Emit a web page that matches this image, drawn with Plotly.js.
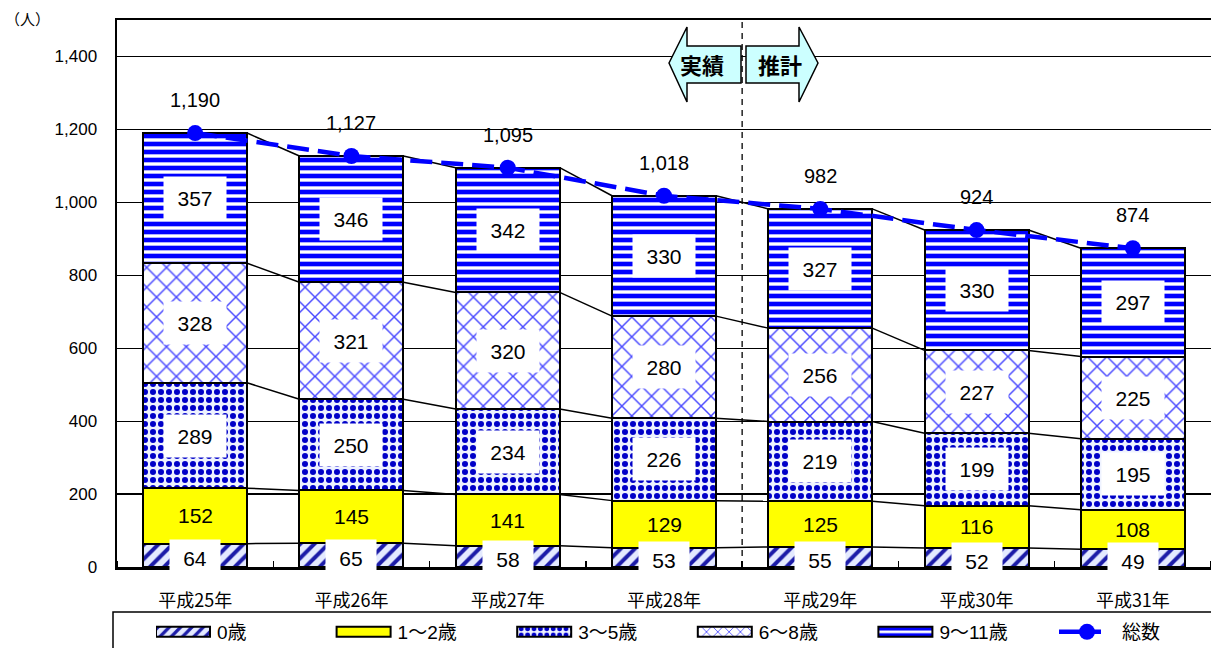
<!DOCTYPE html>
<html>
<head>
<meta charset="utf-8">
<script src="https://cdn.plot.ly/plotly-3.0.1.min.js"></script>
<style>html,body{margin:0;padding:0;background:#fff;overflow:hidden;width:1211px;height:648px;}#chart{width:1300px;height:648px;}</style>
</head>
<body>
<div id="chart"></div>
<script>
// ---- data ----
const years = ["平成25年","平成26年","平成27年","平成28年","平成29年","平成30年","平成31年"];
const age0 = [64, 65, 58, 53, 55, 52, 49];
const age1_2 = [152, 145, 141, 129, 125, 116, 108];
const age3_5 = [289, 250, 234, 226, 219, 199, 195];
const age6_8 = [328, 321, 320, 280, 256, 227, 225];
const age9_11 = [357, 346, 342, 330, 327, 330, 297];
const totals = [1190, 1127, 1095, 1018, 982, 924, 874];
const seriesNames = ["0歳", "1～2歳", "3～5歳", "6～8歳", "9～11歳"];
const totalName = "総数";
const actualLabel = "実績";
const forecastLabel = "推計";
const unitLabel = "（人）";

// ---- build ----
const FONT = "Liberation Sans, Arial, Noto Sans CJK JP, sans-serif";
const JP = "Noto Sans CJK JP, sans-serif";
const xs = years.map((_, i) => i);
const BW = 0.665;
const series = [age0, age1_2, age3_5, age6_8, age9_11];
const patterns = [
  {shape: "/", fgcolor: "#1c1ca8", bgcolor: "#e4eaff", size: 10, solidity: 0.4},
  null,
  {shape: ".", fgcolor: "#0000c8", bgcolor: "#eef2ff", size: 8, solidity: 0.45},
  {shape: "x", fgcolor: "#4a4aff", bgcolor: "#ffffff", size: 14, solidity: 0.2},
  {shape: "-", fgcolor: "#0000ff", bgcolor: "#ffffff", size: 8, solidity: 0.58}
];
const traces = [];
series.forEach((vals, k) => {
  const m = {line: {color: "#000", width: 2}};
  if (patterns[k]) { m.color = patterns[k].bgcolor; m.pattern = patterns[k]; }
  else m.color = "#ffff00";
  traces.push({type: "bar", x: xs, y: vals, name: seriesNames[k], width: BW,
    marker: m, hoverinfo: "skip"});
});
const cum = [];
series.forEach((vals, k) => cum.push(vals.map((v, i) => v + (k ? cum[k-1][i] : 0))));
cum.forEach(level => {
  const lx = [], ly = [];
  for (let i = 0; i < xs.length - 1; i++) {
    lx.push(xs[i] + BW/2, xs[i+1] - BW/2, null);
    ly.push(level[i], level[i+1], null);
  }
  traces.push({type: "scatter", mode: "lines", x: lx, y: ly, showlegend: false,
    hoverinfo: "skip", line: {color: "#000", width: 1.5}});
});
traces.push({type: "scatter", mode: "lines+markers", x: xs, y: totals, name: totalName,
  line: {color: "#0000ff", width: 4.5, dash: "22px,9px"},
  marker: {color: "#0000ff", size: 16}, hoverinfo: "skip"});

const ann = [];
series.forEach((vals, k) => {
  vals.forEach((v, i) => {
    const base = k ? cum[k-1][i] : 0;
    const a = {x: xs[i], y: base + v/2, text: String(v), showarrow: false,
      font: {family: FONT, size: 21, color: "#000"}, xref: "x", yref: "y"};
    if (k !== 1) {
      a.bgcolor = "#ffffff";
      const three = String(v).length >= 3;
      a.width = three ? 60 : 48;
      a.height = three ? 40 : 34;
    }
    if (k === 0) a.yshift = -3;
    ann.push(a);
  });
});
totals.forEach((t, i) => ann.push({x: xs[i], y: t, yshift: 33, showarrow: false,
  text: t.toLocaleString("en-US"), font: {family: FONT, size: 20, color: "#000"}}));

const PL = 117, PT = 20, PW = 1094, PH = 547, FW = 1300, FH = 648;
const px = p => (p - PL) / PW;
const py = p => (PT + PH - p) / PH;
const poly = pts => "M" + pts.map(p => px(p[0]) + "," + py(p[1])).join("L") + "Z";
const leftArrow = poly([[669,63],[687,27],[687,46],[741,46],[741,83],[687,83],[687,102]]);
const rightArrow = poly([[818,63],[799,27],[799,46],[746,46],[746,83],[799,83],[799,102]]);
ann.push({xref: "paper", yref: "paper", x: px(702), y: py(64), xanchor: "center", yanchor: "middle",
  text: "<b>" + actualLabel + "</b>",
  showarrow: false, font: {family: JP, size: 22, color: "#000"}});
ann.push({xref: "paper", yref: "paper", x: px(780), y: py(64), xanchor: "center", yanchor: "middle",
  text: "<b>" + forecastLabel + "</b>",
  showarrow: false, font: {family: JP, size: 22, color: "#000"}});
ann.push({xref: "paper", yref: "paper", x: px(3), y: py(18), xanchor: "left", yanchor: "middle",
  text: unitLabel, showarrow: false, font: {family: JP, size: 15, color: "#000"}});

const shapes = [
  {type: "line", xref: "x", yref: "paper", x0: 3.5, x1: 3.5, y0: 0, y1: 1,
    line: {color: "#000", width: 1.3, dash: "6px,5px"}, layer: "above"},
  {type: "path", xref: "paper", yref: "paper", path: leftArrow, fillcolor: "#ccffff",
    line: {color: "#000", width: 1.5}, layer: "above"},
  {type: "path", xref: "paper", yref: "paper", path: rightArrow, fillcolor: "#ccffff",
    line: {color: "#000", width: 1.5}, layer: "above"},
  {type: "rect", xref: "paper", yref: "paper", x0: px(113), x1: px(1260), y0: py(612), y1: py(670),
    line: {color: "#000", width: 1.5}, fillcolor: "rgba(0,0,0,0)", layer: "below"}
];

const layout = {
  width: FW, height: FH,
  margin: {l: PL, r: FW - PL - PW, t: PT, b: FH - PT - PH, pad: 0, autoexpand: false},
  paper_bgcolor: "#fff", plot_bgcolor: "#fff",
  barmode: "stack",
  font: {family: FONT, color: "#000"},
  xaxis: {range: [-0.5, 6.5], tickvals: xs, ticktext: years, showgrid: false, zeroline: false,
    showline: true, linecolor: "#000", linewidth: 2.5, mirror: true, ticks: "",
    ticklabelstandoff: 16, tickfont: {family: JP, size: 18}, automargin: false,
    minor: {tick0: 0.5, dtick: 1, ticks: "inside", ticklen: 6, tickcolor: "#000", tickwidth: 1.5, showgrid: false}},
  yaxis: {range: [0, 1500], tickvals: [0,200,400,600,800,1000,1200,1400], tickformat: ",",
    showgrid: true, gridcolor: "#000", gridwidth: 1.2, zeroline: false, automargin: false,
    showline: true, linecolor: "#000", linewidth: 2.5, ticks: "", ticklabelstandoff: 14,
    tickfont: {family: FONT, size: 17}},
  legend: {orientation: "h", xref: "container", yref: "container", x: 156 / FW, xanchor: "left",
    y: 1 - 632 / FH, yanchor: "middle",
    borderwidth: 0, bgcolor: "rgba(0,0,0,0)",
    font: {family: FONT, size: 19}, entrywidth: 135.6, traceorder: "normal"},
  annotations: ann, shapes: shapes,
  showlegend: true
};
Plotly.newPlot("chart", traces, layout, {staticPlot: true, displayModeBar: false}).then(gd => {
  // widen legend swatches to match the reference
  gd.querySelectorAll(".legend .traces").forEach(tr => {
    const txt = tr.querySelector("text.legendtext");
    const bars = tr.querySelectorAll(".legendpoints path.legendbar, .legendpoints path.legendundefined");
    const line = tr.querySelector(".legendlines path.js-line");
    if (line) {
      line.setAttribute("d", "M0,0h42");
      tr.querySelectorAll(".legendpoints path.scatterpts").forEach(p => p.setAttribute("transform", "translate(28,0)"));
      if (txt) txt.setAttribute("x", 63);
    } else if (bars.length) {
      bars.forEach(b => b.setAttribute("d", "M-20,-5H34V5H-20Z"));
      if (txt) txt.setAttribute("x", 61);
    }
  });
});
</script>
</body>
</html>
